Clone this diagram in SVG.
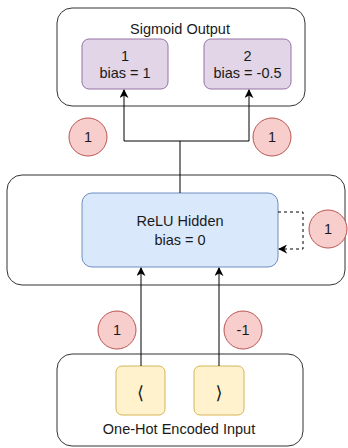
<svg xmlns="http://www.w3.org/2000/svg" width="348" height="448" viewBox="0 0 348 448">
<style>
text{font-family:"Liberation Sans",Arial,sans-serif;font-size:14.5px;fill:#1a1a1a;text-anchor:middle;dominant-baseline:central}
.br{font-family:"DejaVu Sans",sans-serif;font-size:18px}
.cont{fill:#fff;stroke:#333;stroke-width:1}
.out{fill:#e1d5e7;stroke:#9673a6}
.hid{fill:#dae8fc;stroke:#6c8ebf}
.inp{fill:#fff2cc;stroke:#d6b656}
.w{fill:#f8cecc;stroke:#b85450}
.e{fill:none;stroke:#000;stroke-width:1}
</style>
<defs>
<marker id="ah" viewBox="0 0 10 10" refX="9" refY="5" markerWidth="9" markerHeight="9" markerUnits="userSpaceOnUse" orient="auto">
<path d="M0,0 L10,5 L0,10 L3,5 Z" fill="#000"/>
</marker>
</defs>
<g id="output-layer">
<rect class="cont" x="57" y="8" width="248" height="98" rx="15"/>
<text x="180" y="29">Sigmoid Output</text>
</g>
<g id="out1">
<rect class="out" x="82" y="39" width="86" height="50" rx="7"/>
<text x="125" y="56">1</text>
<text x="125" y="73">bias = 1</text>
</g>
<g id="out2">
<rect class="out" x="204" y="39" width="87" height="50" rx="7"/>
<text x="247.5" y="56">2</text>
<text x="247.5" y="73">bias = -0.5</text>
</g>
<g id="hidden-layer">
<rect class="cont" x="7" y="175" width="338" height="110" rx="15"/>
</g>
<g id="hidden">
<rect class="hid" x="82" y="193" width="196" height="74" rx="10"/>
<text x="180" y="221">ReLU Hidden</text>
<text x="180" y="240">bias = 0</text>
</g>
<g id="input-layer">
<rect class="cont" x="57" y="354" width="246" height="92" rx="15"/>
<text x="179" y="429">One-Hot Encoded Input</text>
</g>
<g id="in-open">
<rect class="inp" x="116" y="366" width="49" height="49" rx="6"/>
<text class="br" x="140.5" y="392">⟨</text>
</g>
<g id="in-close">
<rect class="inp" x="194" y="366" width="50" height="49" rx="6"/>
<text class="br" x="219" y="392">⟩</text>
</g>
<g id="connectors">
<path class="e" d="M180,193 V141 H124 V90" marker-end="url(#ah)"/>
<path class="e" d="M180,141 H249 V90" marker-end="url(#ah)"/>
<path class="e" d="M278,212 H303 V249 H279" stroke-dasharray="3,3" marker-end="url(#ah)"/>
<path class="e" d="M141,366 V268" marker-end="url(#ah)"/>
<path class="e" d="M219,366 V268" marker-end="url(#ah)"/>
</g>
<g id="weights">
<circle class="w" cx="88" cy="137" r="19"/><text x="88" y="137">1</text>
<circle class="w" cx="272" cy="137" r="19"/><text x="272" y="137">1</text>
<circle class="w" cx="328" cy="229" r="19"/><text x="328" y="229">1</text>
<circle class="w" cx="117" cy="330" r="19"/><text x="117" y="330">1</text>
<circle class="w" cx="243" cy="330" r="19"/><text x="243" y="330">-1</text>
</g>
</svg>
